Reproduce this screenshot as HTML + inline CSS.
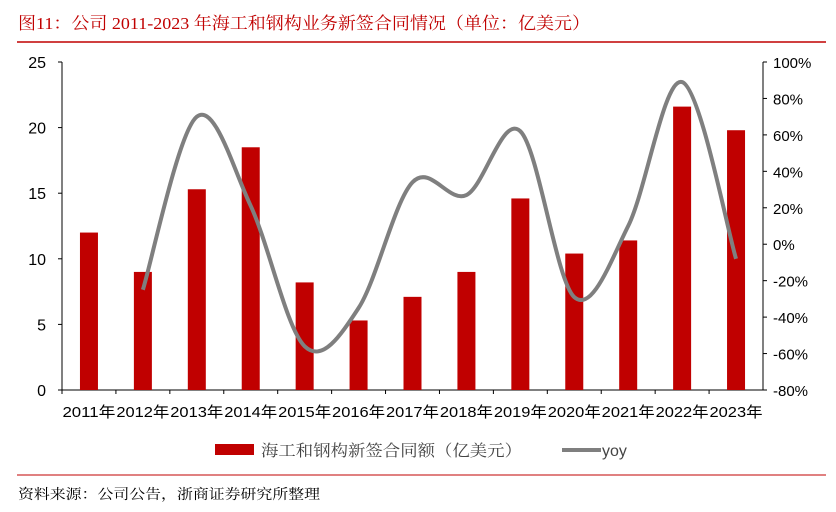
<!DOCTYPE html>
<html><head><meta charset="utf-8"><style>
body{margin:0;background:#fff;width:836px;height:507px;overflow:hidden;font-family:"Liberation Sans","Noto Sans CJK SC",sans-serif}
</style></head><body>
<svg id="c" width="836" height="507" xmlns="http://www.w3.org/2000/svg">
<text x="18" y="29" font-size="17" fill="#c00000" font-family="Liberation Serif,Noto Serif CJK SC,serif" textLength="572" lengthAdjust="spacingAndGlyphs">图11：公司 2011-2023 年海工和钢构业务新签合同情况（单位：亿美元）</text>
<line x1="17" y1="42" x2="826" y2="42" stroke="#c00000" stroke-width="1.5"/>
<line x1="17" y1="475" x2="826" y2="475" stroke="#c00000" stroke-width="1"/>
<text x="18" y="499" font-size="14" fill="#000" font-family="Liberation Serif,Noto Serif CJK SC,serif" textLength="302" lengthAdjust="spacingAndGlyphs">资料来源：公司公告，浙商证券研究所整理</text>
<g id="plot"></g>
<rect x="215" y="444" width="39" height="11" fill="#c00000"/>
<text x="261" y="456" font-size="16" fill="#444" font-family="Noto Serif CJK SC,serif" textLength="261" lengthAdjust="spacingAndGlyphs">海工和钢构新签合同额（亿美元）</text>
<line x1="562" y1="450" x2="601" y2="450" stroke="#7f7f7f" stroke-width="4"/>
<text x="602" y="456" font-size="16" fill="#444">yoy</text>
</svg>
<script>
const categories=["2011年","2012年","2013年","2014年","2015年","2016年","2017年","2018年","2019年","2020年","2021年","2022年","2023年"];
const amounts=[12,9,15.3,18.5,8.2,5.3,7.1,9,14.6,10.4,11.4,21.6,19.8];
const yoy=[null,-25,70,21,-56,-35,34,27,62,-29,10,89,-8];
const leftTicks=[0,5,10,15,20,25];
const rightTicks=[-80,-60,-40,-20,0,20,40,60,80,100];
const NS="http://www.w3.org/2000/svg";
const g=document.getElementById('plot');
const X0=62,X1=763,Y0=390,Y1=62;
const bw=(X1-X0)/categories.length;
const xc=i=>X0+bw*(i+0.5);
const yL=v=>Y0-(v/25)*(Y0-Y1);
const yR=v=>Y0-((v+80)/180)*(Y0-Y1);
function mk(t,a){const e=document.createElementNS(NS,t);for(const k in a)e.setAttribute(k,a[k]);g.appendChild(e);return e;}
let e;
e=mk('line',{x1:X0,y1:Y1,x2:X0,y2:Y0,stroke:'#000','stroke-width':1});

e=mk('line',{x1:X1,y1:Y1,x2:X1,y2:Y0,stroke:'#000','stroke-width':1});

e=mk('line',{x1:X0,y1:Y0,x2:X1,y2:Y0,stroke:'#000','stroke-width':1});

leftTicks.forEach(v=>{
 e=mk('line',{x1:X0-4,y1:yL(v),x2:X0,y2:yL(v),stroke:'#000'});
 
 e=mk('text',{x:46,y:yL(v)+6,'text-anchor':'end','font-size':16,fill:'#000'});e.textContent=v;
 
});
rightTicks.forEach(v=>{
 e=mk('line',{x1:X1,y1:yR(v),x2:X1+4,y2:yR(v),stroke:'#000'});
 
 e=mk('text',{x:773,y:yR(v)+6,'font-size':15,fill:'#000'});e.textContent=v+'%';
 
});
categories.forEach((c,i)=>{
 e=mk('line',{x1:X0+bw*i,y1:Y0,x2:X0+bw*i,y2:Y0+4,stroke:'#000'});
 
 e=mk('rect',{x:xc(i)-9,y:yL(amounts[i]),width:18,height:Y0-yL(amounts[i]),fill:'#c00000'});
 
 e=mk('text',{x:xc(i),y:417,'text-anchor':'middle','font-size':15,fill:'#000',textLength:53,lengthAdjust:'spacingAndGlyphs'});e.textContent=c;
 
});
const pts=[];yoy.forEach((v,i)=>{if(v!==null)pts.push([xc(i),yR(v)]);});
let d='M'+pts[0][0]+','+pts[0][1];
for(let i=0;i<pts.length-1;i++){
 const p0=pts[i-1]||pts[i],p1=pts[i],p2=pts[i+1],p3=pts[i+2]||p2;
 const c1=[p1[0]+(p2[0]-p0[0])/6,p1[1]+(p2[1]-p0[1])/6];
 const c2=[p2[0]-(p3[0]-p1[0])/6,p2[1]-(p3[1]-p1[1])/6];
 d+=` C${c1[0]},${c1[1]} ${c2[0]},${c2[1]} ${p2[0]},${p2[1]}`;
}
e=mk('path',{d:d,fill:'none',stroke:'#7f7f7f','stroke-width':4,'stroke-linejoin':'round'});

</script>
</body></html>
